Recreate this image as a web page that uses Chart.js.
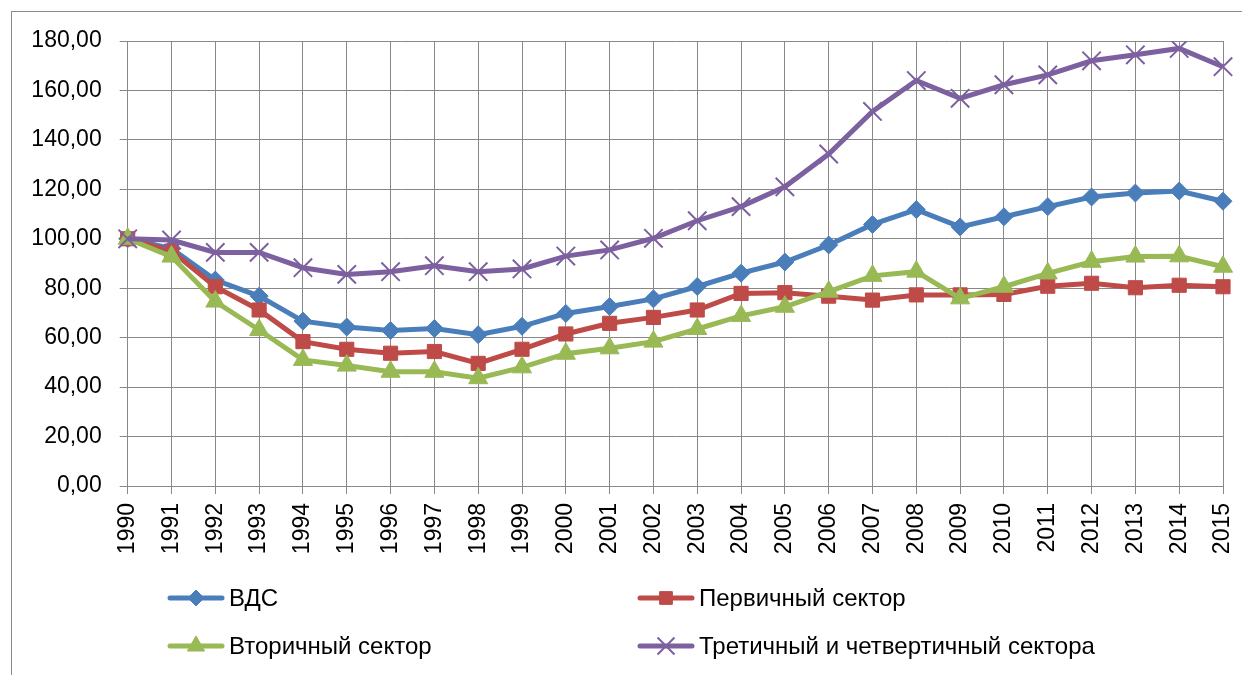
<!DOCTYPE html>
<html>
<head>
<meta charset="utf-8">
<script src="https://cdn.jsdelivr.net/npm/chart.js@4.4.1/dist/chart.umd.min.js"></script>
<style>
  body { margin: 0; background: #fff; }
  canvas { display: block; }
</style>
</head>
<body>
<canvas id="myChart" width="1242" height="675"></canvas>
<script>
// data (1990 = 100)
const years = ['1990','1991','1992','1993','1994','1995','1996','1997','1998','1999','2000','2001','2002',
               '2003','2004','2005','2006','2007','2008','2009','2010','2011','2012','2013','2014','2015'];
const seriesNames = ['ВДС', 'Первичный сектор', 'Вторичный сектор', 'Третичный и четвертичный сектора'];
const vds = [100, 96, 83.3, 76.8, 66.7, 64.3, 62.9, 63.7, 61.2, 64.6, 69.8, 72.6, 75.7,
             80.7, 86.1, 90.6, 97.5, 105.8, 111.8, 104.8, 108.9, 113, 116.9, 118.5, 119.3, 115.2];
const primary = [100, 95, 80.6, 71.2, 58.4, 55.3, 53.7, 54.4, 49.6, 55.3, 61.5, 65.8, 68.2,
                 71.2, 77.9, 78.2, 76.8, 75.2, 77.3, 77.3, 77.5, 80.8, 82, 80.2, 81.2, 80.6];
const secondary = [100, 92.8, 74.6, 63.1, 51, 48.7, 46.2, 46.2, 43.6, 48, 53.5, 55.7, 58.4,
                   63.5, 68.8, 72.5, 78.6, 85, 86.7, 75.9, 80.6, 86, 90.7, 92.8, 92.9, 88.7];
const tertiary = [100, 99.5, 94.5, 94.5, 88.3, 85.6, 86.7, 89.1, 86.7, 87.8, 93, 95.5, 100.2,
                  107.3, 113, 121, 134.3, 151.5, 164, 156.8, 162.3, 166.3, 172, 174.4, 177, 169.6];
const yTicks = [0, 20, 40, 60, 80, 100, 120, 140, 160, 180];

const FONT = 'Liberation Sans';
const gridColor = '#888888';

function makeSet(label, data, color, style, radius, bw, order) {
    return {
        label: label,
        data: data,
        borderColor: color,
        backgroundColor: color,
        borderWidth: 5,
        pointStyle: style,
        pointRadius: radius,
        pointHoverRadius: radius,
        pointBorderWidth: bw,
        pointBackgroundColor: color,
        pointBorderColor: color,
        tension: 0,
        order: order
    };
}

const datasets = [
    makeSet(seriesNames[0], vds, '#4A7EBB', 'rectRot', 9, 1, 4),
    makeSet(seriesNames[1], primary, '#BE4B48', 'rect', 10, 1, 3),
    makeSet(seriesNames[2], secondary, '#98B954', 'triangle', 11, 1, 2),
    makeSet(seriesNames[3], tertiary, '#7D60A0', 'crossRot', 13, 2, 1)
];

// white background + outer frame like the excel chart area
const framePlugin = {
    id: 'frame',
    beforeDraw(chart) {
        const ctx = chart.ctx;
        ctx.save();
        ctx.fillStyle = '#fff';
        ctx.fillRect(0, 0, chart.width, chart.height);
        ctx.strokeStyle = '#8a8a8a';
        ctx.lineWidth = 1;
        ctx.strokeRect(11.5, 11.5, chart.width + 40, chart.height + 40);
        ctx.restore();
    }
};

// two-column legend under the axis
const legendPlugin = {
    id: 'twoColLegend',
    afterDraw(chart) {
        const ctx = chart.ctx;
        const spots = [[168, 598], [638, 598], [168, 646], [638, 646]];
        ctx.save();
        chart.data.datasets.forEach((ds, i) => {
            const x = spots[i][0], y = spots[i][1];
            ctx.strokeStyle = ds.borderColor;
            ctx.lineWidth = 5;
            ctx.lineCap = 'round';
            ctx.beginPath();
            ctx.moveTo(x + 2, y);
            ctx.lineTo(x + 54, y);
            ctx.stroke();
            ctx.lineCap = 'butt';
            ctx.fillStyle = ds.pointBackgroundColor;
            ctx.strokeStyle = ds.pointBorderColor;
            ctx.lineWidth = ds.pointBorderWidth;
            Chart.helpers.drawPoint(ctx, {
                pointStyle: ds.pointStyle,
                radius: ds.pointRadius - 1,
                borderWidth: ds.pointBorderWidth,
                rotation: 0
            }, x + 28, y);
            ctx.fillStyle = '#000';
            ctx.font = '24px "' + FONT + '"';
            ctx.textBaseline = 'middle';
            ctx.textAlign = 'left';
            ctx.fillText(ds.label, x + 61, y + 1);
        });
        ctx.restore();
    }
};

const ctx = document.getElementById('myChart').getContext('2d');
new Chart(ctx, {
    type: 'line',
    data: { labels: years, datasets: datasets },
    plugins: [framePlugin, legendPlugin],
    options: {
        responsive: false,
        animation: false,
        events: [],
        layout: { padding: { top: 41, right: 19, left: 0, bottom: 0 } },
        plugins: {
            legend: { display: false },
            tooltip: { enabled: false }
        },
        scales: {
            x: {
                afterFit: s => {
                    s.height = 189;
                    s.paddingLeft = 0;
                    s.paddingRight = 0;
                },
                grid: { color: gridColor, lineWidth: 1, tickLength: 8, drawTicks: true },
                border: { color: gridColor, width: 1 },
                ticks: {
                    color: '#000',
                    font: { family: FONT, size: 23 },
                    minRotation: 90,
                    maxRotation: 90,
                    autoSkip: false,
                    padding: 9
                }
            },
            y: {
                min: 0,
                max: 180,
                afterFit: s => { s.width = 127.7; },
                afterBuildTicks: s => { s.ticks = yTicks.map(v => ({ value: v })); },
                grid: { color: gridColor, lineWidth: 1, tickLength: 8 },
                border: { color: gridColor, width: 1 },
                ticks: {
                    color: '#000',
                    font: { family: FONT, size: 23 },
                    padding: 18,
                    callback: v => v.toFixed(2).replace('.', ',')
                }
            }
        }
    }
});
</script>
</body>
</html>
